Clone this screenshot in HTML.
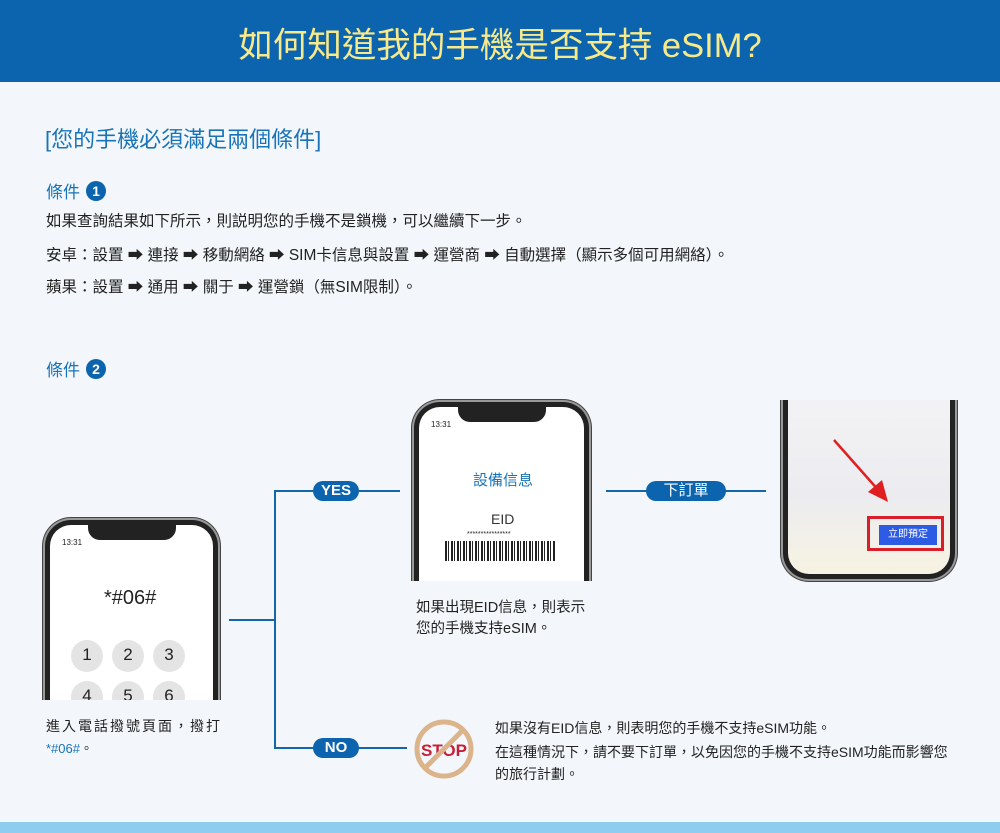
<!DOCTYPE html>
<html><head><meta charset="utf-8"><style>
*{margin:0;padding:0;box-sizing:border-box}
body{width:1000px;height:833px;background:#f3f7fb;position:relative;overflow:hidden;font-family:"Liberation Sans","Noto Sans CJK TC",sans-serif;color:#222}
.hd{position:absolute;left:0;top:0;width:1000px;height:82px;background:#0b64ad;font-size:34.5px;text-align:center;line-height:92px;color:#f8ea8a}
.t{position:absolute;white-space:nowrap}
.blue{color:#1873b8}
.num{display:inline-block;width:20px;height:20px;border-radius:50%;background:#0b64ad;color:#fff;font-size:14px;font-weight:bold;text-align:center;line-height:20px;vertical-align:2px;margin-left:6px}
.p{font-size:15.5px}
.line{position:absolute;background:#1466a8}
.pill{position:absolute;height:20px;border-radius:10px;background:#0b64ad;color:#fff;font-weight:bold;font-size:15px;text-align:center;line-height:20px}
.phone{position:absolute;border:5px solid #222;background:#fff;box-shadow:0 0 0 2px #999,0 0 0 3px #444}
.notch{position:absolute;top:-1px;left:50%;transform:translateX(-50%);width:88px;height:16px;background:#222;border-radius:0 0 12px 12px}
.key{position:absolute;width:32px;height:32px;border-radius:50%;background:#e4e4e4;text-align:center;font-size:17px;line-height:30px;color:#222}
</style></head><body>
<div class="hd">如何知道我的手機是否支持 eSIM?</div>
<div class="t blue" style="left:45px;top:122px;font-size:22px">[您的手機必須滿足兩個條件]</div>
<div class="t blue" style="left:46px;top:178px;font-size:17px">條件<span class="num">1</span></div>
<div class="t p" style="left:46px;top:209px">如果查詢結果如下所示，則説明您的手機不是鎖機，可以繼續下一步。</div>
<div class="t p" style="left:46px;top:243px">安卓：設置 ➡ 連接 ➡ 移動網絡 ➡ SIM卡信息與設置 ➡ 運營商 ➡ 自動選擇（顯示多個可用網絡）。</div>
<div class="t p" style="left:46px;top:275px">蘋果：設置 ➡ 通用 ➡ 關于 ➡ 運營鎖（無SIM限制）。</div>
<div class="t blue" style="left:46px;top:356px;font-size:17px">條件<span class="num">2</span></div>

<div class="phone" style="left:45px;top:520px;width:173px;height:200px;border-radius:26px 26px 0 0;border-bottom:none"><div class="notch"></div>
<div class="t" style="left:12px;top:13px;font-size:8px">13:31</div>
<div class="t" style="left:54px;top:62px;font-size:20px">*#06#</div>
<div class="key" style="left:21px;top:115px">1</div><div class="key" style="left:62px;top:115px">2</div><div class="key" style="left:103px;top:115px">3</div>
<div class="key" style="left:21px;top:156px">4</div><div class="key" style="left:62px;top:156px">5</div><div class="key" style="left:103px;top:156px">6</div>
</div>
<div style="position:absolute;left:40px;top:700px;width:190px;height:30px;background:#f3f7fb"></div>
<div class="t" style="left:46px;top:716px;letter-spacing:2px;font-size:14px">進入電話撥號頁面，撥打</div>
<div class="t blue" style="left:46px;top:738px;font-size:13px">*#06#<span style="color:#222">。</span></div>

<div class="line" style="left:229px;top:619px;width:47px;height:2px"></div>
<div class="line" style="left:274px;top:490px;width:2px;height:259px"></div>
<div class="line" style="left:274px;top:490px;width:126px;height:2px"></div>
<div class="line" style="left:274px;top:747px;width:133px;height:2px"></div>
<div class="pill" style="left:313px;top:481px;width:46px">YES</div>
<div class="pill" style="left:313px;top:738px;width:46px">NO</div>

<div class="phone" style="left:414px;top:402px;width:175px;height:200px;border-radius:26px 26px 0 0;border-bottom:none"><div class="notch"></div>
<div class="t" style="left:12px;top:13px;font-size:8px">13:31</div>
<div class="t" style="left:54px;top:62px;font-size:15px;color:#1873b8">設備信息</div>
<div class="t" style="left:72px;top:104px;font-size:14px;color:#333">EID</div>
<div class="t" style="left:48px;top:124px;font-size:7px">****************</div>
<div style="position:absolute;left:26px;top:134px;width:110px;height:20px;background:repeating-linear-gradient(90deg,#222 0 2px,#fff 2px 3px,#222 3px 4px,#fff 4px 6px)"></div>
</div>
<div style="position:absolute;left:405px;top:581px;width:195px;height:30px;background:#f3f7fb"></div>
<div class="t" style="left:416px;top:596px;font-size:14.5px">如果出現EID信息，則表示</div>
<div class="t" style="left:416px;top:617px;font-size:14.5px">您的手機支持eSIM。</div>

<div class="line" style="left:606px;top:490px;width:160px;height:2px"></div>
<div class="pill" style="left:646px;top:481px;width:80px;font-weight:normal">下訂單</div>

<div class="phone" style="left:783px;top:380px;width:172px;height:199px;border-radius:0 0 26px 26px;border-top:none;background:linear-gradient(180deg,#f4f4f6,#ececf0 60%,#f7f3e2)"></div>
<div style="position:absolute;left:775px;top:370px;width:190px;height:30px;background:#f3f7fb"></div>
<svg style="position:absolute;left:820px;top:430px" width="80" height="80"><line x1="14" y1="10" x2="60" y2="62" stroke="#e02020" stroke-width="2.5"/><polygon points="68,72 48,62 62,50" fill="#e02020"/></svg>
<div style="position:absolute;left:867px;top:516px;width:77px;height:35px;border:3px solid #d81e2a"></div>
<div class="t" style="left:879px;top:525px;width:58px;height:20px;background:#2d5be3;color:#fff;font-size:10px;text-align:center;line-height:20px">立即預定</div>

<svg style="position:absolute;left:413px;top:718px" width="62" height="62"><circle cx="31" cy="31" r="27" fill="none" stroke="#dcb48c" stroke-width="5"/><text x="31" y="38" text-anchor="middle" font-family="Liberation Sans" font-weight="bold" font-size="17" fill="#c42036">STOP</text><line x1="50" y1="12" x2="12" y2="50" stroke="#dcb48c" stroke-width="5"/></svg>
<div class="t" style="left:495px;top:718px;font-size:14px">如果沒有EID信息，則表明您的手機不支持eSIM功能。</div>
<div class="t" style="left:495px;top:742px;font-size:14px">在這種情況下，請不要下訂單，以免因您的手機不支持eSIM功能而影響您</div>
<div class="t" style="left:495px;top:764px;font-size:14px">的旅行計劃。</div>

<div style="position:absolute;left:0;top:822px;width:1000px;height:11px;background:#8ecdf0"></div>
</body></html>
